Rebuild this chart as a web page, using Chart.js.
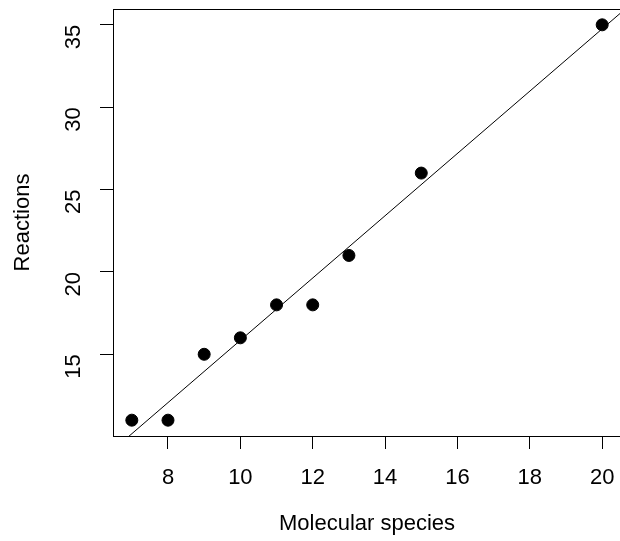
<!DOCTYPE html>
<html>
<head>
<meta charset="utf-8">
<script src="https://cdn.jsdelivr.net/npm/chart.js@4/dist/chart.umd.min.js"></script>
<style>
  html, body { margin: 0; padding: 0; background: #fff; overflow: hidden; }
  #wrap { width: 624px; height: 541px; }
</style>
</head>
<body>
<div id="wrap"><canvas id="chart" width="624" height="541"></canvas></div>
<script>
// ---------------- Data ----------------
const SPECIES = [7, 8, 9, 10, 11, 12, 13, 15, 20];
const REACTIONS = [11, 11, 15, 16, 18, 18, 21, 26, 35];
const X_TICKS = [8, 10, 12, 14, 16, 18, 20];
const Y_TICKS = [15, 20, 25, 30, 35];

// ---------------- Helpers ----------------
// R-style axis range: data range padded by 4% on each side
function paddedRange(arr) {
  const lo = Math.min(...arr), hi = Math.max(...arr);
  const pad = (hi - lo) * 0.04;
  return [lo - pad, hi + pad];
}

// least squares fit, same as abline(lm(y ~ x))
function linearFit(xs, ys) {
  const n = xs.length;
  const mx = xs.reduce((a, b) => a + b, 0) / n;
  const my = ys.reduce((a, b) => a + b, 0) / n;
  let sxy = 0, sxx = 0;
  xs.forEach((x, i) => {
    sxy += (x - mx) * (ys[i] - my);
    sxx += (x - mx) * (x - mx);
  });
  const slope = sxy / sxx;
  return { slope, intercept: my - slope * mx };
}

const [X_MIN, X_MAX] = paddedRange(SPECIES);
const [Y_MIN, Y_MAX] = paddedRange(REACTIONS);
const fit = linearFit(SPECIES, REACTIONS);

const FONT = { family: "'Liberation Sans', Arial, Helvetica, sans-serif", size: 22 };

// box around the plot region
const boxPlugin = {
  id: "box",
  afterDraw(chart) {
    const { ctx, chartArea: a } = chart;
    ctx.save();
    ctx.strokeStyle = "#000";
    ctx.lineWidth = 1;
    ctx.strokeRect(a.left + 0.5, a.top + 0.5, a.right - a.left, a.bottom - a.top);
    ctx.restore();
  }
};

new Chart(document.getElementById("chart"), {
  type: "scatter",
  data: {
    datasets: [
      {
        label: "points",
        data: SPECIES.map((x, i) => ({ x, y: REACTIONS[i] })),
        backgroundColor: "#000",
        borderColor: "#000",
        pointRadius: 6,
        pointHoverRadius: 6
      },
      {
        label: "fit",
        data: [X_MIN, X_MAX].map(x => ({ x, y: fit.intercept + fit.slope * x })),
        showLine: true,
        borderColor: "#000",
        borderWidth: 1,
        pointRadius: 0
      }
    ]
  },
  options: {
    responsive: false,
    animation: false,
    layout: { autoPadding: false, padding: { left: 0, top: 9, right: 3, bottom: 0 } },
    plugins: { legend: { display: false }, tooltip: { enabled: false } },
    scales: {
      x: {
        type: "linear",
        min: X_MIN,
        max: X_MAX,
        afterBuildTicks: s => { s.ticks = X_TICKS.map(v => ({ value: v })); },
        afterFit: s => { s.height = 105; s.paddingLeft = 0; s.paddingRight = 0; },
        grid: { display: true, drawOnChartArea: false, drawTicks: true, tickLength: 13, color: "#000" },
        border: { display: true, color: "#000" },
        ticks: { color: "#000", font: FONT, padding: 16, maxRotation: 0 },
        title: { display: true, text: "Molecular species", color: "#000", font: FONT, padding: { top: 0, bottom: 4 } }
      },
      y: {
        type: "linear",
        min: Y_MIN,
        max: Y_MAX,
        afterBuildTicks: s => { s.ticks = Y_TICKS.map(v => ({ value: v })); },
        afterFit: s => { s.width = 113; s.paddingTop = 0; s.paddingBottom = 0; },
        grid: { display: true, drawOnChartArea: false, drawTicks: true, tickLength: 13, color: "#000" },
        border: { display: true, color: "#000" },
        ticks: { color: "#000", font: FONT, padding: 26, minRotation: 90, maxRotation: 90 },
        title: { display: true, text: "Reactions", color: "#000", font: FONT, padding: { top: 10, bottom: 0 } }
      }
    }
  },
  plugins: [boxPlugin]
});
</script>
</body>
</html>
